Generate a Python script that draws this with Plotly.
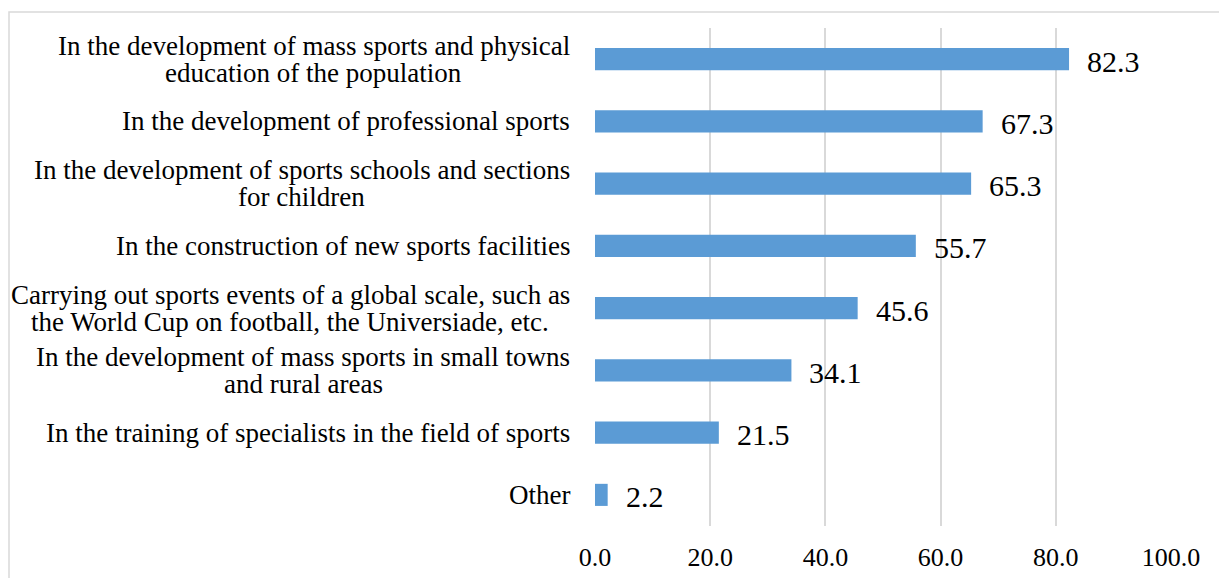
import plotly.graph_objects as go

categories = [
    "In the development of mass sports and physical<br>education of the population",
    "In the development of professional sports",
    "In the development of sports schools and sections<br>for children",
    "In the construction of new sports facilities",
    "Carrying out sports events of a global scale, such as<br>the World Cup on football, the Universiade, etc.",
    "In the development of mass sports in small towns<br>and rural areas",
    "In the training of specialists in the field of sports",
    "Other",
]
values = [82.3, 67.3, 65.3, 55.7, 45.6, 34.1, 21.5, 2.2]
tick_vals = [0, 20, 40, 60, 80, 100]
tick_text = ["0.0", "20.0", "40.0", "60.0", "80.0", "100.0"]

FONT = "Liberation Serif, Times New Roman, serif"
BAR = "#5B9BD5"
LABEL_SIZE = 27
LINE_GAP = 27
RIGHT_GAP = 25  # px between label block and axis start

# Times/Liberation Serif advance widths (1/1000 em) for text measurement
_W = dict(zip("abcdefghijklmnopqrstuvwxyz",
              [444, 500, 444, 500, 444, 333, 500, 500, 278, 278, 500, 278, 778,
               500, 500, 500, 500, 333, 389, 278, 500, 500, 722, 500, 500, 444]))
_W.update({" ": 250, ",": 250, ".": 250, "I": 333, "C": 667, "W": 944,
           "U": 722, "O": 722})


def text_width(s, size):
    try:
        from PIL import ImageFont
        for p in ("/usr/share/fonts/truetype/liberation/LiberationSerif-Regular.ttf",
                  "/usr/share/fonts/liberation/LiberationSerif-Regular.ttf",
                  "LiberationSerif-Regular.ttf"):
            try:
                f = ImageFont.truetype(p, size)
                return f.getlength(s)
            except Exception:
                continue
    except Exception:
        pass
    return sum(_W.get(ch, 500) for ch in s) * size / 1000.0


fig = go.Figure()
fig.add_trace(go.Bar(
    x=values, y=categories, orientation="h",
    marker=dict(color=BAR, line=dict(width=0)),
    width=0.355, hoverinfo="skip",
))

annotations = []
for c, v in zip(categories, values):
    annotations.append(dict(
        x=v, y=c, xref="x", yref="y", text=f"{v:.1f}", showarrow=False,
        xanchor="left", yanchor="middle", xshift=16, yshift=-2,
        font=dict(family=FONT, size=30, color="black"),
    ))
    lines = c.split("<br>")
    n = len(lines)
    block_w = max(text_width(l, LABEL_SIZE) for l in lines)
    for i, line in enumerate(lines):
        annotations.append(dict(
            x=0, y=c, xref="paper", yref="y", text=line, showarrow=False,
            xanchor="center", yanchor="middle", align="center",
            xshift=-(RIGHT_GAP + block_w / 2),
            yshift=((n - 1) / 2 - i) * LINE_GAP,
            font=dict(family=FONT, size=LABEL_SIZE, color="black"),
        ))

fig.update_layout(
    width=1227, height=578,
    margin=dict(l=587, r=64, t=20, b=60),
    paper_bgcolor="white", plot_bgcolor="white",
    showlegend=False,
    annotations=annotations,
    xaxis=dict(
        range=[0, 100], tickvals=tick_vals, ticktext=tick_text,
        showgrid=True, gridcolor="#D9D9D9", gridwidth=1.5,
        zeroline=False, showline=False, ticks="",
        tickfont=dict(family=FONT, size=26, color="black"),
        ticklabelstandoff=13,
        fixedrange=True,
    ),
    yaxis=dict(
        autorange="reversed", showticklabels=False, showgrid=False,
        zeroline=False, showline=False, ticks="", fixedrange=True,
    ),
    shapes=[dict(
        type="rect", xref="paper", yref="paper",
        x0=(9 - 595) / 576, x1=(1226 - 595) / 576,
        y0=(526 - 590) / 498, y1=(526 - 12) / 498,
        line=dict(color="#D9D9D9", width=1.5), fillcolor="rgba(0,0,0,0)",
        layer="below",
    )],
)

fig.write_html("out.html")
